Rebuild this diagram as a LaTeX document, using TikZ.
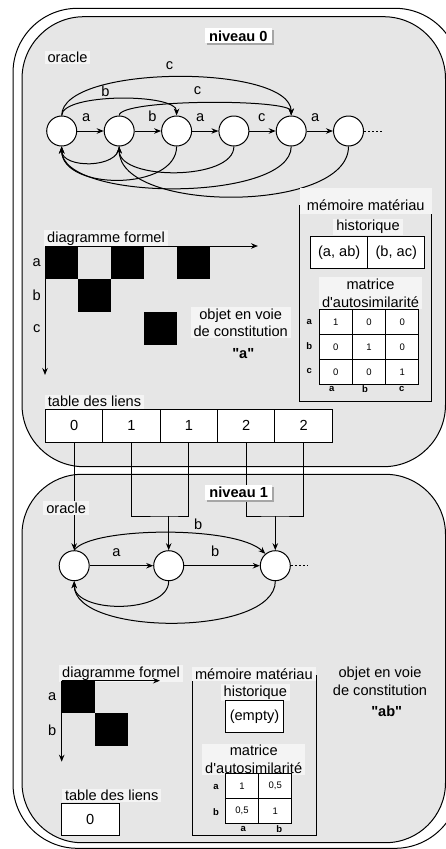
\documentclass[tikz,border=0pt]{standalone}
\usepackage{fontspec}
\setmainfont{Liberation Sans}
\usetikzlibrary{arrows.meta,shadows}
\definecolor{levelfill}{HTML}{E6E6E6}
\definecolor{labelfill}{HTML}{F4F4F4}
\newcommand{\petit}{\fontsize{9.5}{11}\selectfont}

\begin{document}
\begin{tikzpicture}[x=1pt,y=-1pt,line width=1pt,
  font=\fontsize{14.6}{17.6}\selectfont,
  >={Stealth[length=7pt,width=5.5pt]},
  etat/.style={circle,draw,fill=white,minimum size=30pt,inner sep=0pt},
  lbl/.style={fill=labelfill,inner xsep=3pt,inner ysep=1.5pt},
  edgelbl/.style={inner sep=1pt},
  titre/.style={fill=white,font=\fontsize{14.6}{17.6}\selectfont\bfseries,inner xsep=4pt,inner ysep=2pt,
    drop shadow={shadow xshift=2pt,shadow yshift=-2pt,fill=black!35,opacity=1}},
  cell/.style={draw,fill=white,minimum width=57.5pt,minimum height=33pt,inner sep=0pt},
  hcell/.style={draw,fill=white,minimum width=57.2pt,minimum height=32.3pt,inner sep=0pt},
  mcell/.style={draw,fill=white,minimum width=33.3pt,minimum height=25pt,inner sep=0pt,font=\petit},
  tag/.style={font=\petit\bfseries,inner sep=0pt}]
\useasboundingbox (0,0) rectangle (446,849);
\clip (0,0) rectangle (446,849);

% frames
\draw[rounded corners=64.5pt] (13,8.3) rectangle (459.5,848.3);
\draw[fill=levelfill,rounded corners=62pt] (22,16.7) rectangle (445.5,466.7);
\draw[fill=levelfill,rounded corners=60pt] (22,474.3) rectangle (445.5,842.7);

% niveau 0 : oracle
\node (s0) [etat] at (61.7,131) {};
\node (s1) [etat] at (119.2,131) {};
\node (s2) [etat] at (176.6,131) {};
\node (s3) [etat] at (233.9,131) {};
\node (s4) [etat] at (291.2,131) {};
\node (s5) [etat] at (348.5,131) {};
\coordinate (s5end) at (383,131);
\draw[->] (s0) -- (s1) node[edgelbl,pos=0.34,above=8pt] {a};
\draw[->] (s1) -- (s2) node[edgelbl,pos=0.67,above=8pt] {b};
\draw[->] (s2) -- (s3) node[edgelbl,pos=0.31,above=8pt] {a};
\draw[->] (s3) -- (s4) node[edgelbl,pos=0.47,above=8pt] {c};
\draw[->] (s4) -- (s5) node[edgelbl,pos=0.32,above=8pt] {a};
\draw[dash pattern=on 2pt off 2pt,line width=0.6pt] (s5) -- (s5end);
\draw[->] (s0.north) .. controls (61.7,64) and (291.2,64) .. (s4.north) node[edgelbl,pos=0.48,above=5.5pt] {c};
\draw[->] (s0.north) .. controls (61.7,93) and (176.6,93) .. (s2.north) node[edgelbl,pos=0.42,above=1pt] {b};
\draw[->] (s1.north) .. controls (119.2,98.7) and (291.2,98.7) .. (s4.north) node[edgelbl,pos=0.47,above=6.5pt] {c};
\draw[->] (s1.south) .. controls (119.2,168.8) and (61.7,168.8) .. (s0.south);
\draw[->] (s2.south) .. controls (176.6,191) and (61.7,191) .. (s0.south);
\draw[->] (s3.south) .. controls (233.9,180.8) and (119.2,180.8) .. (s1.south);
\draw[->] (s4.south) .. controls (291.2,202.2) and (61.7,202.2) .. (s0.south);
\draw[->] (s5.south) .. controls (348.5,213.4) and (119.2,213.4) .. (s1.south);

% niveau 0 : diagramme formel
\node (diag0) [lbl] at (106,238.3) {diagramme formel};
\coordinate (o0) at (45,246);
\coordinate (h0) at (258,246);
\coordinate (v0) at (45,375);
\fill (45,246) rectangle ++(33,33);
\fill (111,246) rectangle ++(33,33);
\fill (177,246) rectangle ++(33,33);
\fill (78,279) rectangle ++(33,33);
\fill (144,312) rectangle ++(33,33);
\draw[->] (o0) -- (h0);
\draw[->] (o0) -- (v0);
\node (ra0) at (36.7,263) {a};
\node (rb0) at (36.7,295.5) {b};
\node (rc0) at (36.7,328.5) {c};
\node (obj0) [lbl,align=center] at (240.7,322.7) {objet en voie\\de constitution};
\node (mot0) at (243.3,353.3) {\textbf{\textquotedbl a\textquotedbl}};

% niveau 0 : memoire materiau
\draw (299.3,205) rectangle (431.7,401);
\fill[labelfill] (300,188.3) rectangle (431.7,214);
\node (mem0) at (365.8,205.5) {mémoire matériau};
\node (hist0) [lbl] at (368,227) {historique};
\node (h00) [hcell] at (339.2,252.8) {(a, ab)};
\node (h01) [hcell] at (396.3,252.8) {(b, ac)};
\node (mat0) [lbl,align=center] at (370.5,293) {matrice\\d\textquotesingle autosimilarité};
\node (m0aa) [mcell] at (335.7,321.8) {1};
\node (m0ab) [mcell] at (369,321.8) {0};
\node (m0ac) [mcell] at (402.3,321.8) {0};
\node (m0ba) [mcell] at (335.7,346.8) {0};
\node (m0bb) [mcell] at (369,346.8) {1};
\node (m0bc) [mcell] at (402.3,346.8) {0};
\node (m0ca) [mcell] at (335.7,371.8) {0};
\node (m0cb) [mcell] at (369,371.8) {0};
\node (m0cc) [mcell] at (402.3,371.8) {1};
\node (ta0) [tag] at (309.3,322.3) {a};
\node (tb0) [tag] at (309.3,346.5) {b};
\node (tc0) [tag] at (309.3,371.3) {c};
\node (ka0) [tag] at (331.7,389.3) {a};
\node (kb0) [tag] at (365,389.3) {b};
\node (kc0) [tag] at (401.7,389.3) {c};

% niveau 0 : table des liens
\node (tab0) [lbl] at (94.5,401.7) {table des liens};
\node (l0) [cell] at (74.2,425.8) {0};
\node (l1) [cell] at (131.5,425.8) {1};
\node (l2) [cell] at (188.9,425.8) {1};
\node (l3) [cell] at (246.3,425.8) {2};
\node (l4) [cell] at (303.7,425.8) {2};

% niveau 1 : oracle
\node (t0) [etat] at (74.2,565.7) {};
\node (t1) [etat] at (168.7,565.7) {};
\node (t2) [etat] at (275.3,565.7) {};
\coordinate (t2end) at (308.3,565.7);
\coordinate (j1) at (168.7,516);
\coordinate (j2) at (275.3,516);
\draw[->] (l0) -- (t0);
\draw (l1.south) |- (j1) -| (l2.south);
\draw[->] (j1) -- (t1);
\draw (l3.south) |- (j2) -| (l4.south);
\draw[->] (j2) -- (t2);
\draw[->] (t0) -- (t1) node[edgelbl,pos=0.42,above=8pt] {a};
\draw[->] (t1) -- (t2) node[edgelbl,pos=0.41,above=8pt] {b};
\draw[dash pattern=on 2pt off 2pt,line width=0.6pt] (t2) -- (t2end);
\draw[->] (t0.north) .. controls (90,527) and (235,525) .. (t2.130) node[edgelbl,pos=0.635,above=3pt] {b};
\draw[->] (t1.south) .. controls (168.7,614) and (74.2,614) .. (t0.south);
\draw[->] (t2.south) .. controls (275.3,636.6) and (74.2,636.6) .. (t0.south);

\node (niv0) [titre] at (238.3,35.8) {niveau 0};
\node (orc0) [lbl] at (67.5,57.5) {oracle};
\node (niv1) [titre] at (238.7,492.5) {niveau 1};
\node (orc1) [lbl] at (66.2,508.3) {oracle};

% niveau 1 : diagramme formel
\node (diag1) [lbl] at (121,673.7) {diagramme formel};
\coordinate (o1) at (61.7,680.7);
\coordinate (h1) at (160,680.7);
\coordinate (v1) at (61.7,761.7);
\fill (61.7,680.7) rectangle ++(33.3,32);
\fill (95,712.7) rectangle ++(32.7,33.3);
\draw[->] (o1) -- (h1);
\draw[->] (o1) -- (v1);
\node (ra1) at (52.3,696.7) {a};
\node (rb1) at (52.3,730) {b};

% niveau 1 : memoire materiau
\draw (192.7,675) rectangle (316,835);
\node (mem1) [lbl] at (253.9,673.7) {mémoire matériau};
\node (hist1) [lbl] at (255.3,692.5) {historique};
\node (h10) [hcell,minimum width=57.6pt,minimum height=31.7pt] at (254.5,716.8) {(empty)};
\node (mat1) [lbl,align=center] at (253.7,759.5) {matrice\\d\textquotesingle autosimilarité};
\node (m1aa) [mcell] at (242,786.2) {1};
\node (m1ab) [mcell] at (275.3,786.2) {0,5};
\node (m1ba) [mcell] at (242,811.2) {0,5};
\node (m1bb) [mcell] at (275.3,811.2) {1};
\node (ta1) [tag] at (216,786.7) {a};
\node (tb1) [tag] at (216,811.7) {b};
\node (ka1) [tag] at (243.3,829.3) {a};
\node (kb1) [tag] at (279.3,829.3) {b};

\node (obj1) [align=center] at (380,681.3) {objet en voie\\de constitution};
\node (mot1) at (386.7,711.7) {\textbf{\textquotedbl ab\textquotedbl}};

% niveau 1 : table des liens
\node (tab1) [lbl] at (111.7,795.5) {table des liens};
\node (l10) [cell,minimum height=31.7pt] at (90.3,819.2) {0};
\end{tikzpicture}
\end{document}
